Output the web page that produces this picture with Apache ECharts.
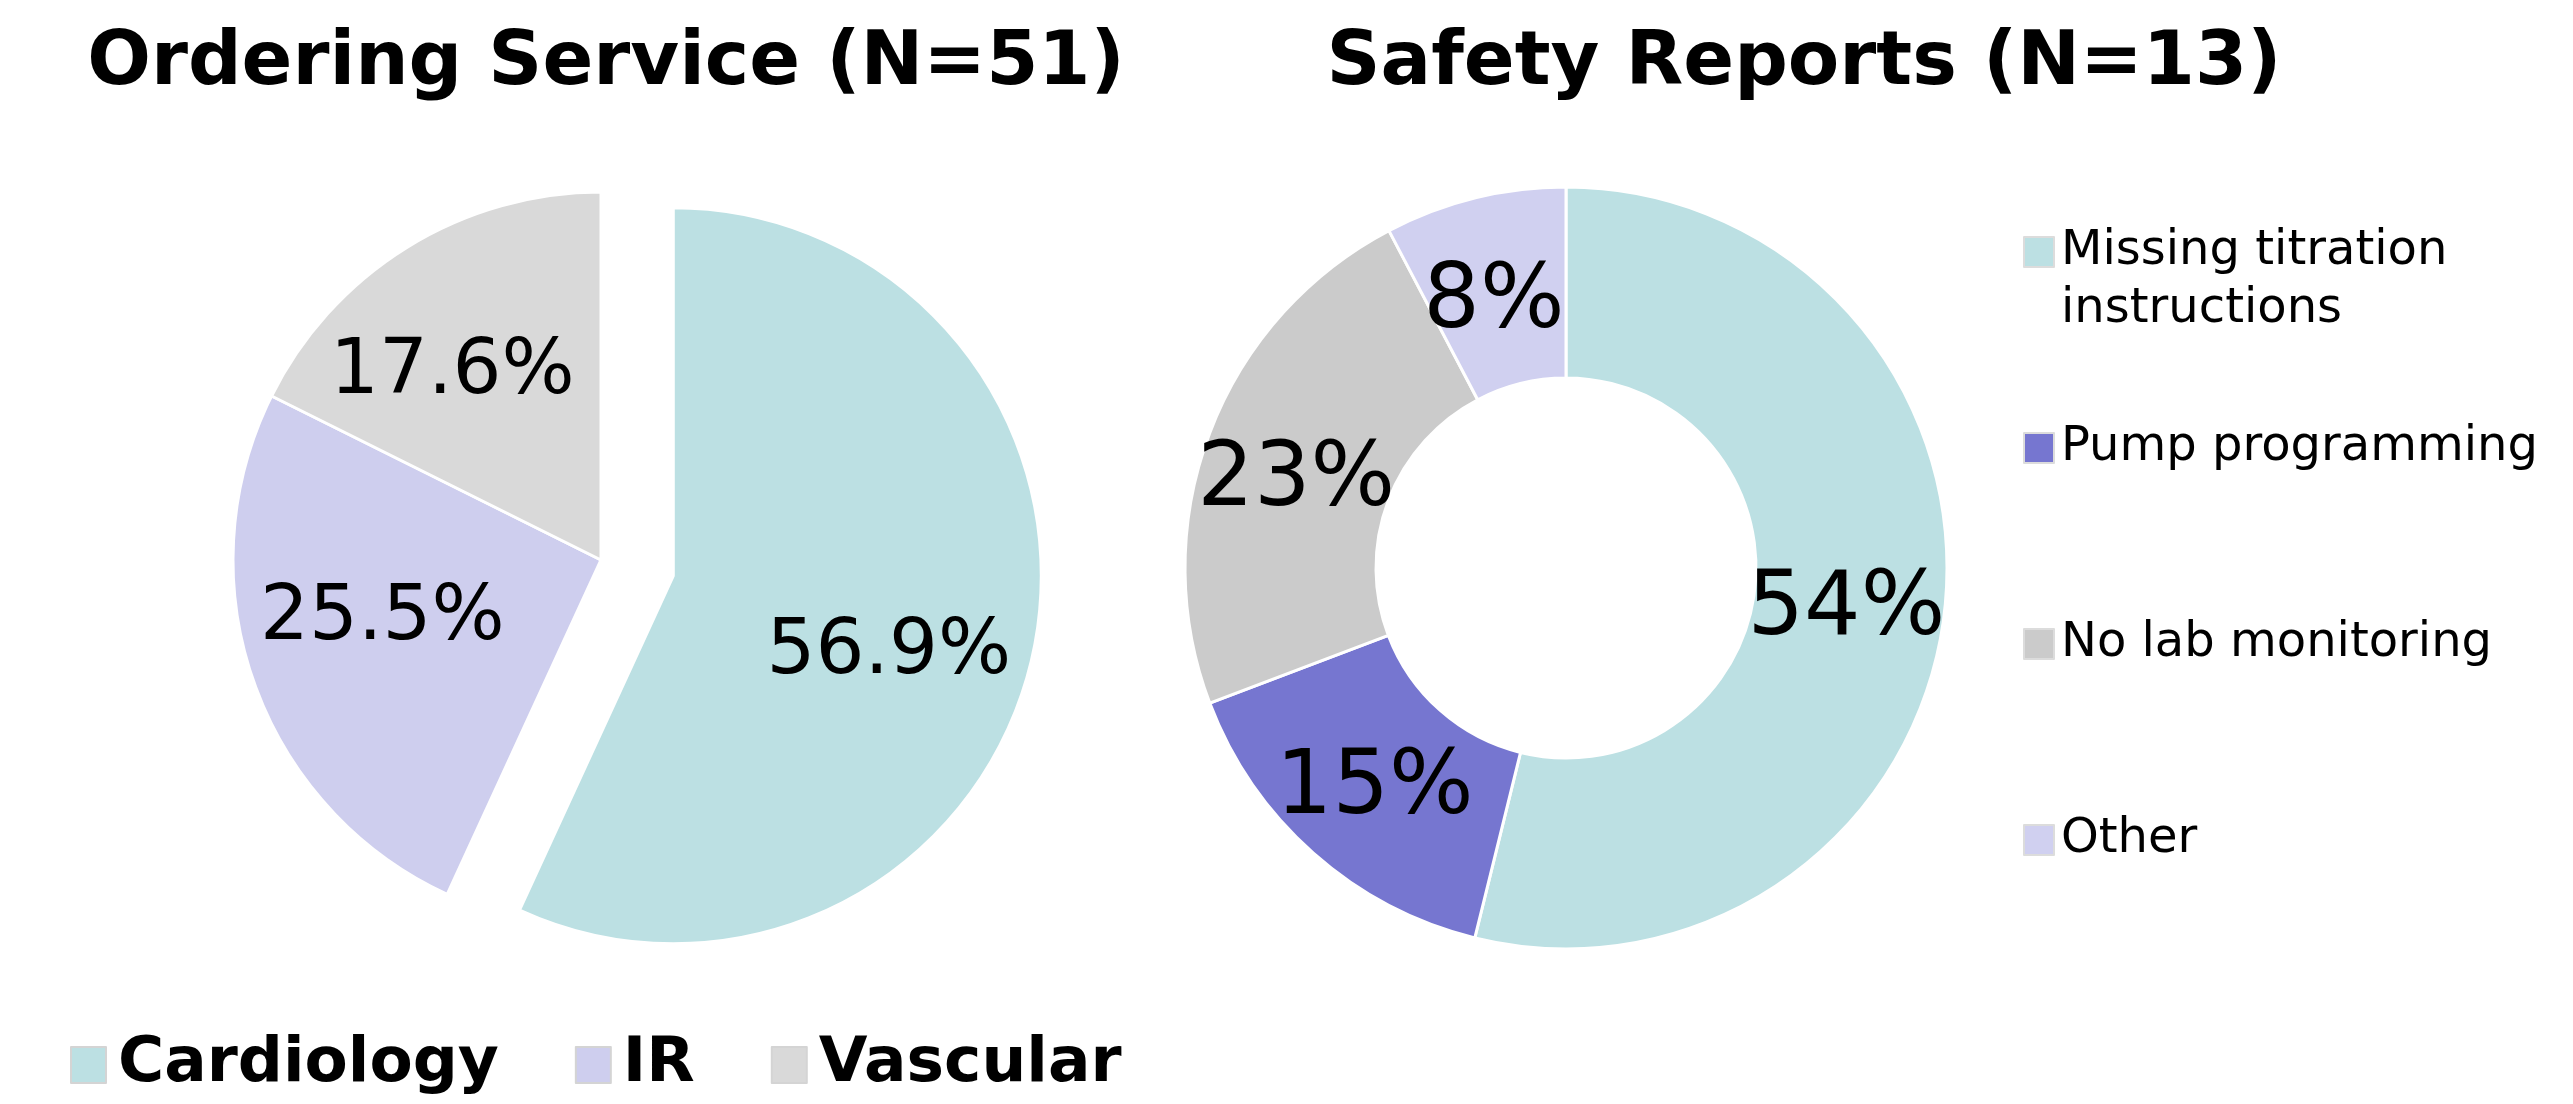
<!DOCTYPE html>
<html>
<head>
<meta charset="utf-8">
<title>Ordering Service / Safety Reports</title>
<script src="https://cdn.jsdelivr.net/npm/echarts@6/dist/echarts.min.js"></script>
<style>
  html, body { margin: 0; padding: 0; background: #fff; }
  #chart { width: 2573px; height: 1104px; }
</style>
</head>
<body>
<div id="chart"></div>
<script>
// ordering service, counts out of 51
const orderingNames = ['Cardiology', 'IR', 'Vascular']
const orderingCounts = [29, 13, 9]
const orderingColors = ['#BCE0E3', '#CECEEE', '#D9D9D9']

// safety reports, counts out of 13
const safetyNames = ['Missing titration\ninstructions', 'Pump programming', 'No lab monitoring', 'Other']
const safetyCounts = [7, 2, 3, 1]
const safetyColors = ['#BCE0E3', '#7676D0', '#CBCBCB', '#D0D0F0']

// small label nudges so the percentages sit where the original puts them
const orderingLabelNudge = [[-14, 27], [3, -19], [-25, 13]]
const safetyLabelNudge = [[-6, 8], [0, 6], [0, 16], [-3, 16]]

const font = 'DejaVu Sans, Verdana, sans-serif'
const pieCenter = [601, 560]
const pieR = 368
const explode = 74

const orderingData = orderingNames.map((name, i) => ({
  name,
  value: orderingCounts[i],
  selected: i === 0,
  itemStyle: { color: orderingColors[i] }
}))

const safetyData = safetyNames.map((name, i) => ({
  name,
  value: safetyCounts[i],
  itemStyle: { color: safetyColors[i] },
  label: { offset: safetyLabelNudge[i] }
}))

const chart = echarts.init(document.getElementById('chart'), null, { renderer: 'canvas' })

chart.setOption({
  animation: false,
  backgroundColor: '#fff',
  title: [
    {
      text: 'Ordering Service (N=51)',
      left: 601,
      textAlign: 'center',
      top: 22,
      textStyle: { fontFamily: font, fontWeight: 'bold', fontSize: 75, color: '#000' }
    },
    {
      text: 'Safety Reports (N=13)',
      left: 1799,
      textAlign: 'center',
      top: 22,
      textStyle: { fontFamily: font, fontWeight: 'bold', fontSize: 75, color: '#000' }
    }
  ],
  legend: [
    {
      data: orderingNames,
      orient: 'horizontal',
      left: 65,
      top: 1025,
      itemWidth: 35,
      itemHeight: 36,
      itemGap: 76,
      icon: 'rect',
      selectedMode: false,
      itemStyle: { borderColor: '#d4d4d4', borderWidth: 2 },
      textStyle: {
        fontFamily: font, fontWeight: 'bold', fontSize: 63, color: '#000',
        lineHeight: 70, padding: [0, 0, 0, 7]
      }
    },
    {
      data: safetyNames,
      orient: 'vertical',
      left: 2018,
      top: 160,
      itemWidth: 30,
      itemHeight: 30,
      itemGap: 22,
      icon: 'rect',
      selectedMode: false,
      itemStyle: { borderColor: '#dcdcdc', borderWidth: 2 },
      // pad each entry to three lines so the icon sits on the first text line
      formatter: name => name.includes('\n') ? '\n' + name : '\n' + name + '\n',
      textStyle: {
        fontFamily: font, fontSize: 48, color: '#000',
        lineHeight: 58, padding: [0, 0, 0, 2]
      }
    }
  ],
  series: [
    {
      name: 'Ordering Service',
      type: 'pie',
      center: pieCenter,
      radius: [0, pieR],
      startAngle: 90,
      selectedMode: 'single',
      selectedOffset: explode,
      silent: true,
      label: { show: false },
      labelLine: { show: false },
      itemStyle: { borderColor: '#fff', borderWidth: 3 },
      emphasis: { disabled: true },
      data: orderingData
    },
    {
      // transparent copy that only carries the labels further out
      name: 'Ordering labels',
      type: 'pie',
      center: pieCenter,
      radius: [96, pieR],
      startAngle: 90,
      selectedMode: 'single',
      selectedOffset: explode,
      silent: true,
      percentPrecision: 1,
      itemStyle: { color: 'rgba(0,0,0,0)', borderWidth: 0 },
      label: {
        show: true,
        position: 'inside',
        formatter: '{d}%',
        fontFamily: font,
        fontSize: 77,
        color: '#000'
      },
      labelLine: { show: false },
      emphasis: { disabled: true },
      data: orderingData.map((d, i) => ({
        name: d.name,
        value: d.value,
        selected: d.selected,
        label: { offset: orderingLabelNudge[i] },
        select: { label: { offset: orderingLabelNudge[i] } }
      }))
    },
    {
      name: 'Safety Reports',
      type: 'pie',
      center: [1566, 568],
      radius: [190, 381],
      startAngle: 90,
      silent: true,
      percentPrecision: 0,
      itemStyle: { borderColor: '#fff', borderWidth: 3 },
      label: {
        show: true,
        position: 'inside',
        formatter: '{d}%',
        fontFamily: font,
        fontSize: 89,
        color: '#000'
      },
      labelLine: { show: false },
      emphasis: { disabled: true },
      data: safetyData
    }
  ]
})
</script>
</body>
</html>
